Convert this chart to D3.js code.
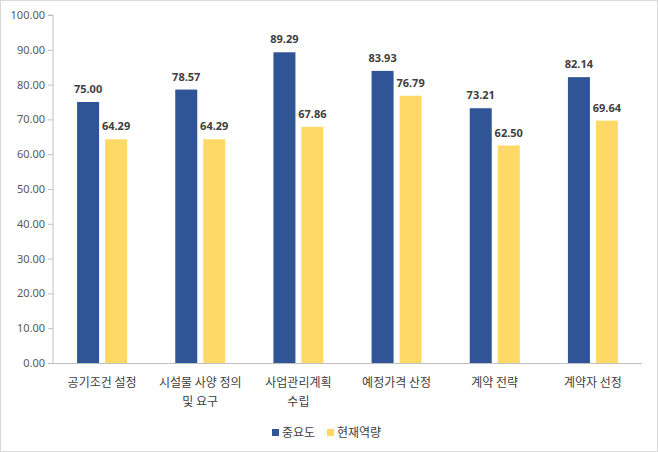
<!DOCTYPE html>
<html><head><meta charset="utf-8">
<script src="https://cdn.jsdelivr.net/npm/d3@7"></script>
<style>body{margin:0;background:#fff;}text{font-family:"Noto Sans CJK KR","Noto Sans",sans-serif;}</style>
</head><body><svg id="c" width="658" height="452"></svg>
<script>
const categories = [["공기조건 설정"],["시설물 사양 정의","및 요구"],["사업관리계획","수립"],["예정가격 산정"],["계약 전략"],["계약자 선정"]];
const importance = [75.00, 78.57, 89.29, 83.93, 73.21, 82.14];
const capability = [64.29, 64.29, 67.86, 76.79, 62.50, 69.64];
const seriesNames = ["중요도","현재역량"];
const yTicks = [0,10,20,30,40,50,60,70,80,90,100];
const colors = ["#2F5597","#FFD966"];

const svg = d3.select("#c");
svg.append("rect").attr("x",0.5).attr("y",0.5).attr("width",657).attr("height",451).attr("fill","#fff").attr("stroke","#d9d9d9");
const L=53, R=642, T=15, B=363;
const x = d3.scaleBand().domain(d3.range(categories.length)).range([L,R]);
const y = d3.scaleLinear().domain([0,100]).range([B,T]);
const bw = 22, gap = 6;
const g = svg.append("g");
// y axis
const ya = g.append("g").attr("transform",`translate(${L},0)`).call(d3.axisLeft(y).tickValues(yTicks).tickSize(5).tickFormat(d=>d.toFixed(2)));
ya.select(".domain").attr("stroke","#bfbfbf").attr("d",`M-5,${T}H0V${B}`);
ya.selectAll(".tick line").attr("stroke","#bfbfbf");
ya.selectAll(".tick text").attr("fill","#595959").style("font-size","11px").style("font-family","'Noto Sans','Noto Sans CJK KR',sans-serif").attr("x",-8);
// bars
const series=[importance,capability];
series.forEach((vals,si)=>{
  const off = (x.bandwidth() - (2*bw+gap))/2 + si*(bw+gap);
  g.selectAll(".b"+si).data(vals).enter().append("rect")
    .attr("x",(d,i)=>x(i)+off).attr("width",bw)
    .attr("y",d=>y(d)).attr("height",d=>B-y(d)).attr("fill",colors[si]);
  g.selectAll(".l"+si).data(vals).enter().append("text")
    .attr("x",(d,i)=>x(i)+off+bw/2).attr("y",d=>y(d)-9)
    .attr("text-anchor","middle").attr("fill","#404040").style("font-size","11px").style("font-weight","bold")
    .style("font-family","'Noto Sans','Noto Sans CJK KR',sans-serif")
    .text(d=>d.toFixed(2));
});
// x axis line
g.append("line").attr("x1",L).attr("x2",R).attr("y1",B+0.5).attr("y2",B+0.5).attr("stroke","#bfbfbf");
// category labels
categories.forEach((lines,i)=>{
  const t = g.append("text").attr("text-anchor","middle").attr("fill","#404040").style("font-size","12px");
  lines.forEach((s,j)=>t.append("tspan").attr("x",x(i)+x.bandwidth()/2).attr("y",387+j*19).text(s));
});
// legend
const lg = svg.append("g");
const lx=[272,327];
seriesNames.forEach((n,i)=>{
  lg.append("rect").attr("x",lx[i]).attr("y",429).attr("width",7).attr("height",7).attr("fill",colors[i]);
  lg.append("text").attr("x",lx[i]+10).attr("y",437).attr("fill","#404040").style("font-size","12px").text(n);
});
</script></body></html>
